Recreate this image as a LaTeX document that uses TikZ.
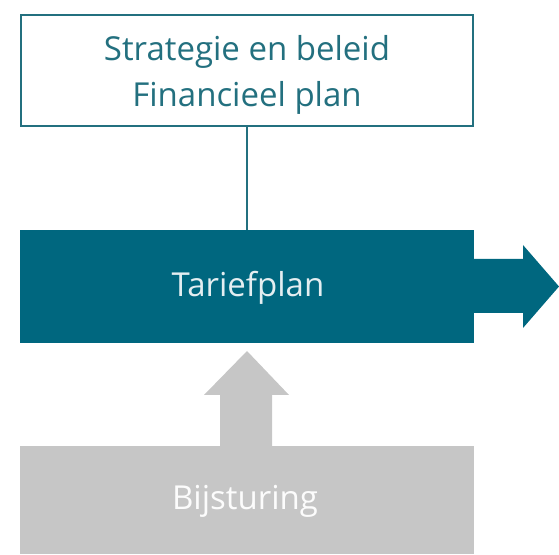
\documentclass[tikz,border=0pt]{standalone}
\usepackage{fontspec}
\setmainfont{Open Sans}
\definecolor{teal}{HTML}{00677F}
\definecolor{tealline}{HTML}{23707F}
\definecolor{greyfill}{HTML}{C6C6C6}
\definecolor{lighttxt}{HTML}{E4EEF1}
\begin{document}
\begin{tikzpicture}[x=1pt,y=1pt,
  box/.style={rectangle, minimum width=454pt, inner sep=0pt, outer sep=0pt},
  lbl/.style={font=\fontsize{33}{46}\selectfont, align=center}]
\useasboundingbox (0,0) rectangle (559,554);
% top box
\node[box, draw=tealline, line width=2pt, minimum width=452pt, minimum height=111pt, fill=white] (strat) at (247,483.5) {};
\node[lbl, text=tealline, anchor=base] (stratt) at (247,493) {Strategie en beleid};
\node[lbl, text=tealline, anchor=base] (fin) at (247,447) {Financieel plan};
% tariefplan
\node[box, fill=teal, minimum height=113pt] (tarief) at (247,267.5) {};
\node[lbl, text=lighttxt, anchor=base] (tarieft) at (248,257) {Tariefplan};
% bijsturing
\node[box, fill=greyfill, minimum height=108pt] (bij) at (247,54) {};
\node[lbl, text=white!95!greyfill, anchor=base] (bijt) at (245,45) {Bijsturing};
% connector
\draw[tealline, line width=2pt] (strat.south) -- (tarief.north);
% right arrow
\fill[teal] (tarief.east) ++(0,27.5) -- ++(49,0) -- ++(0,14) -- (559,267.5) -- (523,226) -- (523,241) -- (tarief.east |- 0,241) -- cycle;
% up arrow
\coordinate (tip) at (247,203);
\fill[greyfill] (tip) -- (289,159) -- (272,159) -- (272,108) -- (220,108) -- (220,159) -- (204,159) -- cycle;
\end{tikzpicture}
\end{document}
